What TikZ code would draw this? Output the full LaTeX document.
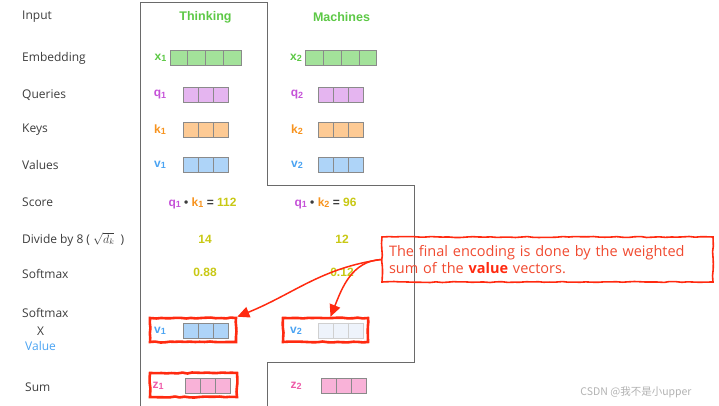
\documentclass[tikz,border=0pt]{standalone}
\usepackage{fontspec}
\setmainfont{Open Sans}
\newfontfamily\labfont{Liberation Sans}
\newfontfamily\cjk{Noto Sans CJK SC}
\usetikzlibrary{arrows.meta, calc, decorations.pathmorphing}

\definecolor{labgray}{HTML}{3C3C3C}
\definecolor{panelgray}{HTML}{6A6A6A}
\definecolor{cellgray}{HTML}{8A8A8A}
\definecolor{wgreen}{HTML}{5CC845}
\definecolor{xfill}{HTML}{A3E29A}
\definecolor{qcol}{HTML}{C552D8}
\definecolor{qfill}{HTML}{E5B5F0}
\definecolor{kcol}{HTML}{F7931E}
\definecolor{kfill}{HTML}{FDCA94}
\definecolor{vcol}{HTML}{4AA3F2}
\definecolor{vfill}{HTML}{AED4F8}
\definecolor{vpale}{HTML}{EEF3FB}
\definecolor{zcol}{HTML}{EE5AA8}
\definecolor{zfill}{HTML}{F9B2D8}
\definecolor{numyellow}{HTML}{C8C814}
\definecolor{framered}{HTML}{FF2A10}
\definecolor{calltext}{HTML}{F04A30}

% small index digit, set low like the picture's
\newcommand{\idx}[1]{\raisebox{-1.2pt}{\fontsize{9}{10}\selectfont #1}}

\begin{document}
\begin{tikzpicture}[x=1pt, y=1pt,
        row/.style={anchor=west, text=labgray, inner sep=0pt, font=\fontsize{12}{14}\selectfont},
        word/.style={text=wgreen, font=\labfont\bfseries\fontsize{12.5}{14}\selectfont},
        sym/.style={inner sep=0pt, font=\labfont\bfseries\fontsize{12}{14}\selectfont},
        num/.style={text=numyellow, font=\labfont\bfseries\fontsize{12}{14}\selectfont},
        vec/.style={draw=cellgray, line width=0.7pt, inner sep=0pt, minimum height=15pt, minimum width=45pt},
        vecwide/.style={vec, minimum width=71pt},
        cellline/.style={draw=cellgray, line width=0.7pt},
        redframe/.style={draw=framered, line width=2.6pt, minimum height=24pt, inner sep=0pt,
            decorate, decoration={random steps, segment length=5pt, amplitude=0.5pt}},
        callout/.style={draw=framered, line width=1.6pt, minimum width=331pt, minimum height=45pt,
            text width=317pt, align=left, inner xsep=7pt, text=calltext,
            font=\fontsize{14.5}{16.5}\selectfont,
            decorate, decoration={random steps, segment length=6pt, amplitude=0.5pt}},
        arr/.style={-{Triangle[length=12pt, width=11pt]}, draw=framered, line width=1.5pt},
        panel/.style={draw=panelgray, line width=0.8pt}
    ]
    \useasboundingbox (0,0) rectangle (719,406);

    % outline of the two word columns
    \draw[panel] (140,0) -- (140,404) -- (267,404) -- (267,221) -- (414,221)
        -- (414,44) -- (267,44) -- (267,0);

    % row names
    \node[row] (lin) at (22,389) {Input};
    \node[row] (lemb) at (22,348) {Embedding};
    \node[row] (lq) at (22,311) {Queries};
    \node[row] (lk) at (22,276) {Keys};
    \node[row] (lv) at (22,241) {Values};
    \node[row] (lscore) at (22,204) {Score};
    \node[row] (ldiv) at (22,166.5) {Divide by 8 ( $\sqrt{d_k}$\ \ )};
    \node[row] (lsoft) at (22,132) {Softmax};
    \node[row] (lsv1) at (22,93) {Softmax};
    \node[row, anchor=center] (lsv2) at (40.5,75) {X};
    \node[row, text=vcol] (lsv3) at (25,60) {Value};
    \node[row] (lsum) at (25,19) {Sum};

    % words
    \node[word] (think) at (205.5,389) {Thinking};
    \node[word] (mach) at (341.5,389) {Machines};

    % embeddings, queries, keys, values
    \node[sym, text=wgreen] (x1) at (160.5,348) {x\idx{1}};
    \node[vecwide, fill=xfill] (x1v) at (205.5,348) {};
    \node[sym, text=wgreen] (x2) at (296,348) {x\idx{2}};
    \node[vecwide, fill=xfill] (x2v) at (341,348) {};

    \node[sym, text=qcol] (q1) at (160,311) {q\idx{1}};
    \node[vec, fill=qfill] (q1v) at (205.5,311) {};
    \node[sym, text=qcol] (q2) at (297,311) {q\idx{2}};
    \node[vec, fill=qfill] (q2v) at (341,311) {};

    \node[sym, text=kcol] (k1) at (160,276) {k\idx{1}};
    \node[vec, fill=kfill] (k1v) at (205.5,276) {};
    \node[sym, text=kcol] (k2) at (297,276) {k\idx{2}};
    \node[vec, fill=kfill] (k2v) at (341,276) {};

    \node[sym, text=vcol] (v1) at (160,241) {v\idx{1}};
    \node[vec, fill=vfill] (v1v) at (205.5,241) {};
    \node[sym, text=vcol] (v2) at (297,241) {v\idx{2}};
    \node[vec, fill=vfill] (v2v) at (341,241) {};

    % scores
    \node[num] (s1) at (202.5,203) {\textcolor{qcol}{q\idx{1}} \textcolor{labgray}{•} \textcolor{kcol}{k\idx{1}} \textcolor{labgray}{=} 112};
    \node[num] (s2) at (325.5,203) {\textcolor{qcol}{q\idx{1}} \textcolor{labgray}{•} \textcolor{kcol}{k\idx{2}} \textcolor{labgray}{=} 96};
    \node[num] (d1) at (205,167) {14};
    \node[num] (d2) at (342,167) {12};
    \node[num] (m1) at (205,134) {0.88};
    \node[num] (m2) at (342,134) {0.12};

    % weighted values
    \node[redframe, minimum width=86pt] (v1frame) at (193,76) {};
    \node[redframe, minimum width=85pt] (v2frame) at (325.5,76) {};
    \node[sym, text=vcol] (wv1) at (160,75.5) {v\idx{1}};
    \node[vec, fill=vfill] (wv1v) at (205.5,75.5) {};
    \node[sym, text=vcol] (wv2) at (296,75.5) {v\idx{2}};
    \node[vec, fill=vpale, draw=cellgray!40] (wv2v) at (340.5,75.5) {};

    % sums
    \node[redframe, minimum width=87pt] (z1frame) at (193.5,21) {};
    \node[sym, text=zcol] (z1) at (158,20) {z\idx{1}};
    \node[vec, fill=zfill] (z1v) at (207.5,20) {};
    \node[sym, text=zcol] (z2) at (296,20) {z\idx{2}};
    \node[vec, fill=zfill] (z2v) at (343.5,20) {};

    % cell dividers
    \foreach \v/\n in {x1v/4, x2v/4, q1v/3, q2v/3, k1v/3, k2v/3, v1v/3, v2v/3, wv1v/3, z1v/3, z2v/3} {
        \pgfmathtruncatemacro\m{\n-1}
        \foreach \i in {1,...,\m}
            \draw[cellline] ($(\v.north west)!\i/\n!(\v.north east)$) -- ($(\v.south west)!\i/\n!(\v.south east)$);
    }
    \foreach \i in {1,2}
        \draw[cellline, draw=cellgray!40] ($(wv2v.north west)!\i/3!(wv2v.north east)$) -- ($(wv2v.south west)!\i/3!(wv2v.south east)$);

    % note
    \node[callout] (note) at (547.5,146.5) {The final encoding is done by the weighted sum of the \textbf{\textcolor{framered}{value}} vectors.};
    \draw[arr] (note.west) to[out=188, in=22] (v1frame.north east);
    \draw[arr] (note.west) to[out=183, in=68] ([xshift=5pt]v2frame.north);

    \node[text=gray!60, font=\cjk\fontsize{10.5}{12}\selectfont] (mark) at (636,14) {CSDN @我不是小upper};
\end{tikzpicture}
\end{document}
